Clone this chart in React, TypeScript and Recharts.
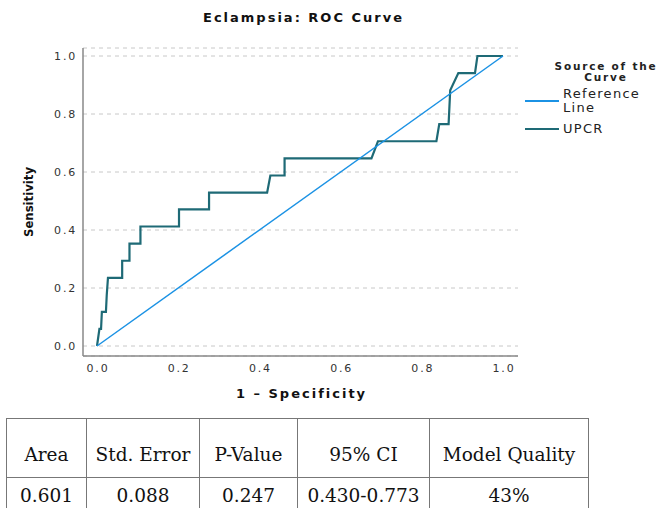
import React from 'react';
import { LineChart, Line, XAxis, YAxis, CartesianGrid } from 'recharts';

// 1 - Specificity (false positive rate) and Sensitivity for UPCR
const upcrFpr = [0, 0.006, 0.010, 0.012, 0.022, 0.024, 0.027, 0.062, 0.062, 0.080, 0.080, 0.107, 0.107, 0.202, 0.202, 0.276, 0.276, 0.419, 0.427, 0.462, 0.462, 0.676, 0.692, 0.836, 0.843, 0.866, 0.870, 0.890, 0.931, 0.937, 1.0];
const upcrTpr = [0, 0.059, 0.059, 0.118, 0.118, 0.176, 0.235, 0.235, 0.294, 0.294, 0.353, 0.353, 0.412, 0.412, 0.471, 0.471, 0.529, 0.529, 0.588, 0.588, 0.647, 0.647, 0.706, 0.706, 0.765, 0.765, 0.882, 0.941, 0.941, 1.0, 1.0];

// Reference (diagonal) line
const refFpr = [0, 1];
const refTpr = [0, 1];

const xTicks = [0, 0.2, 0.4, 0.6, 0.8, 1.0];
const yTicks = [0, 0.2, 0.4, 0.6, 0.8, 1.0];

const tableHeaders = ['Area', 'Std. Error', 'P-Value', '95% CI', 'Model Quality'];
const tableValues = ['0.601', '0.088', '0.247', '0.430-0.773', '43%'];
const tableColWidths = [80, 113, 98, 132, 159];

const upcrData = upcrFpr.map((x, i) => ({ x, y: upcrTpr[i] }));
const refData = refFpr.map((x, i) => ({ x, y: refTpr[i] }));

const REF_COLOR = '#1b92e4';
const UPCR_COLOR = '#1e6a76';
const SANS = 'DejaVu Sans, Verdana, sans-serif';

function LegendBox() {
  return (
    <div style={{ position: 'absolute', left: 520, top: 58, width: 139, height: 90, fontFamily: SANS, color: '#222' }}>
      <div style={{ position: 'absolute', left: 33, top: 3, width: 106, textAlign: 'center', fontWeight: 'bold', fontSize: 10.5, lineHeight: '11px', letterSpacing: 1.8, whiteSpace: 'nowrap' }}>
        Source of the<br />Curve
      </div>
      <div style={{ position: 'absolute', left: 5, top: 42, width: 34, height: 2, background: REF_COLOR }} />
      <div style={{ position: 'absolute', left: 43, top: 29, fontSize: 13, lineHeight: '14px', letterSpacing: 1.3, whiteSpace: 'nowrap' }}>Reference<br />Line</div>
      <div style={{ position: 'absolute', left: 5, top: 70, width: 34, height: 2, background: UPCR_COLOR }} />
      <div style={{ position: 'absolute', left: 43, top: 64, fontSize: 13, lineHeight: '14px', letterSpacing: 1.3, whiteSpace: 'nowrap' }}>UPCR</div>
    </div>
  );
}

export default function App() {
  return (
    <div style={{ position: 'absolute', left: 0, top: 0, width: 659, height: 508, background: '#fff', overflow: 'hidden' }}>
      <div style={{ position: 'absolute', left: 2, top: 10, width: 603, textAlign: 'center', fontFamily: SANS, fontWeight: 'bold', fontSize: 13, color: '#111', letterSpacing: 2 }}>
        Eclampsia: ROC Curve
      </div>
      <LineChart width={659} height={420} margin={{ top: 48, right: 141, bottom: 0, left: 0 }}>
        <CartesianGrid horizontal={true} vertical={false} stroke="#c8c8c8" strokeDasharray="4 4" />
        <XAxis
          type="number"
          dataKey="x"
          domain={[0, 1]}
          ticks={xTicks}
          padding={{ left: 14, right: 15 }}
          height={64}
          tickFormatter={(v: number) => v.toFixed(1)}
          axisLine={{ stroke: '#888', strokeWidth: 1.5 }}
          tickLine={false}
          tick={{ fill: '#333', fontSize: 11, fontFamily: SANS, letterSpacing: 1.8, dx: 1 }}
          label={{ value: '1 – Specificity', position: 'insideBottom', offset: 22, dx: 1, style: { fontFamily: SANS, fontWeight: 'bold', fontSize: 13, fill: '#111', letterSpacing: 2 } }}
        />
        <YAxis
          type="number"
          dataKey="y"
          domain={[0, 1]}
          ticks={yTicks}
          padding={{ top: 8, bottom: 10 }}
          width={83}
          tickFormatter={(v: number) => v.toFixed(1)}
          axisLine={{ stroke: '#888', strokeWidth: 1.5 }}
          tickLine={false}
          tick={{ fill: '#333', fontSize: 11, fontFamily: SANS, letterSpacing: 1.8, dx: 2 }}
          label={{ value: 'Sensitivity', angle: -90, position: 'insideLeft', offset: 28, style: { textAnchor: 'middle', fontFamily: 'DejaVu Sans Condensed, DejaVu Sans, sans-serif', fontStretch: 'condensed', fontWeight: 'bold', fontSize: 13, fill: '#111' } }}
        />
        <Line data={upcrData} dataKey="y" name="UPCR" type="linear" stroke={UPCR_COLOR} strokeWidth={2.2} dot={false} isAnimationActive={false} />
        <Line data={refData} dataKey="y" name="Reference Line" type="linear" stroke={REF_COLOR} strokeWidth={1.5} dot={false} isAnimationActive={false} />
      </LineChart>
      <LegendBox />
      <table style={{ position: 'absolute', left: 6, top: 418, borderCollapse: 'collapse', fontFamily: 'DejaVu Serif, serif', fontSize: 18.5, color: '#111' }}>
        <tbody>
          <tr style={{ height: 59 }}>
            {tableHeaders.map((h, i) => (
              <td key={h} style={{ width: tableColWidths[i], border: '1px solid #777', textAlign: 'center', verticalAlign: 'bottom', paddingBottom: 12, paddingTop: 0, boxSizing: 'border-box' }}>{h}</td>
            ))}
          </tr>
          <tr style={{ height: 50 }}>
            {tableValues.map((v, i) => (
              <td key={i} style={{ width: tableColWidths[i], border: '1px solid #777', textAlign: 'center', verticalAlign: 'top', paddingTop: 7, boxSizing: 'border-box' }}>{v}</td>
            ))}
          </tr>
        </tbody>
      </table>
    </div>
  );
}
